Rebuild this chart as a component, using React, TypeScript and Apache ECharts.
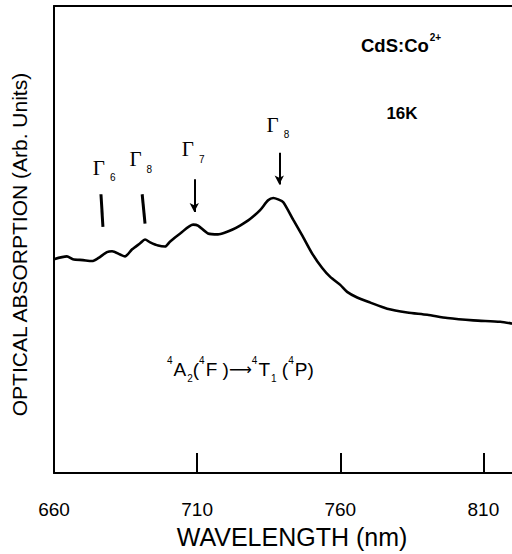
import React, { useEffect, useRef } from "react";
import * as echarts from "echarts";

const wavelength = [660, 664.5, 666.6, 670.1, 673.3, 675.4, 678.5, 680.3, 683.1, 684.8, 687.3, 690.1, 691.8, 693.6, 696.4, 698.8, 700.6, 704.1, 708.6, 710.3, 713.8, 717.3, 719.8, 722.2, 725.0, 728.5, 732.0, 734.8, 736.6, 738.3, 740.1, 743.6, 746.7, 750.2, 753.7, 756.5, 760.0, 762.4, 765.9, 770.5, 776.4, 783.4, 790.4, 797.4, 806.5, 815.9, 820];
const absorption = [45.8, 46.4, 45.8, 45.6, 45.4, 46.0, 47.3, 47.5, 46.8, 46.4, 47.9, 49.2, 50.0, 49.4, 48.7, 48.5, 49.6, 51.3, 53.2, 53.0, 51.3, 51.1, 51.5, 52.1, 53.0, 54.4, 56.3, 58.4, 58.9, 58.6, 58.0, 54.2, 50.9, 47.0, 43.9, 42.0, 40.3, 38.8, 37.6, 36.5, 35.2, 34.4, 33.9, 33.2, 32.7, 32.4, 32.0];

// annotation arrows
const arrowNames = ["Γ6", "Γ8", "Γ7", "Γ8"];
const arrowSubs = ["6", "8", "7", "8"];
const arrowStart = [[676.4, 59.7], [690.8, 59.7], [709.0, 62.9], [738.7, 68.6]];
const arrowEnd = [[677.1, 52.7], [691.8, 53.4], [709.0, 55.9], [738.7, 61.8]];
const arrowHead = [false, false, true, true];
const labelPos = [[677.5, 65.4], [690.3, 67.2], [708.6, 69.3], [738.2, 74.6]];

const xTicks = { min: 660, max: 820, interval: 50 };

export default function App() {
  const ref = useRef<HTMLDivElement>(null);
  useEffect(() => {
    if (!ref.current) return;
    const chart = echarts.init(ref.current, null, { renderer: "svg" });
    const data = wavelength.map((w, i) => [w, absorption[i]]);
    chart.setOption({
      animation: false,
      grid: { left: 54, right: 0, top: 6, bottom: 74 },
      xAxis: [
        {
          type: "value",
          min: xTicks.min,
          max: xTicks.max,
          interval: xTicks.interval,
          axisLine: { show: true, lineStyle: { color: "#000", width: 2 } },
          axisTick: { show: true, inside: true, length: 20, lineStyle: { color: "#000", width: 2 } },
          axisLabel: {
            show: true,
            showMaxLabel: false,
            margin: 27,
            color: "#000",
            fontFamily: "Liberation Sans, Arial, sans-serif",
            fontSize: 19,
          },
          splitLine: { show: false },
          name: "WAVELENGTH (nm)",
          nameLocation: "middle",
          nameGap: 46,
          nameTextStyle: {
            color: "#000",
            fontFamily: "Liberation Sans, Arial, sans-serif",
            fontSize: 25,
            padding: [0, 0, 0, 18],
          },
        },
        {
          type: "value",
          position: "top",
          min: xTicks.min,
          max: xTicks.max,
          axisLine: { show: true, lineStyle: { color: "#000", width: 2 } },
          axisTick: { show: false },
          axisLabel: { show: false },
          splitLine: { show: false },
        },
      ],
      yAxis: {
        type: "value",
        min: 0,
        max: 100,
        axisLine: { show: true, lineStyle: { color: "#000", width: 2 } },
        axisTick: { show: false },
        axisLabel: { show: false },
        splitLine: { show: false },
        name: "OPTICAL ABSORPTION (Arb. Units)",
        nameLocation: "middle",
        nameGap: 24,
        nameTextStyle: {
          color: "#000",
          fontFamily: "Liberation Sans, Arial, sans-serif",
          fontSize: 21,
          padding: [0, 10, 0, 0],
        },
      },
      series: [
        {
          type: "line",
          data,
          showSymbol: false,
          smooth: 0.25,
          lineStyle: { color: "#000", width: 2.6 },
          silent: true,
          markLine: {
            silent: true,
            symbol: ["none", "none"],
            label: { show: false },
            lineStyle: { color: "#000", type: "solid", width: 3 },
            data: arrowStart.map((s, i) => [
              { coord: s, symbol: "none", lineStyle: { width: arrowHead[i] ? 2 : 3 } },
              { coord: arrowEnd[i], symbol: arrowHead[i] ? "arrow" : "none", symbolSize: [7, 9] },
            ]),
          },
          markPoint: {
            silent: true,
            symbol: "circle",
            symbolSize: 1,
            itemStyle: { color: "transparent" },
            data: labelPos.map((p, i) => ({
              name: arrowNames[i],
              coord: p,
              label: {
                show: true,
                position: "inside",
                formatter: "{g|Γ}{s|" + arrowSubs[i] + "}",
                rich: {
                  g: {
                    fontFamily: "Liberation Serif, Times New Roman, serif",
                    fontSize: 21,
                    color: "#000",
                    lineHeight: 30,
                    verticalAlign: "middle",
                  },
                  s: {
                    fontFamily: "Liberation Sans, Arial, sans-serif",
                    fontSize: 10,
                    color: "#000",
                    lineHeight: 30,
                    verticalAlign: "bottom",
                    padding: [0, 0, 0, 5],
                  },
                },
              },
            })),
          },
        },
      ],
      graphic: [
        {
          type: "text",
          x: 361,
          y: 45,
          style: {
            text: "{m|CdS:Co}{sup|2+}",
            verticalAlign: "middle",
            rich: {
              m: { fontFamily: "Liberation Sans, Arial, sans-serif", fontWeight: "bold", fontSize: 18.5, fill: "#000", lineHeight: 26 },
              sup: {
                fontFamily: "Liberation Sans, Arial, sans-serif",
                fontWeight: "bold",
                fontSize: 10,
                fill: "#000",
                lineHeight: 26,
                verticalAlign: "top",
                padding: [0, 0, 0, 1],
              },
            },
          },
        },
        {
          type: "text",
          x: 402,
          y: 113,
          style: {
            text: "16K",
            align: "center",
            verticalAlign: "middle",
            fontFamily: "Liberation Sans, Arial, sans-serif",
            fontWeight: "bold",
            fontSize: 17,
            fill: "#000",
          },
        },
        {
          type: "text",
          x: 167,
          y: 369,
          style: {
            text: "{sp|4}{b|A}{sb|2}{b|(}{sp|4}{b|F )}{ar|⟶}{sp|4}{b|T}{sb|1}{b| (}{sp|4}{b|P)}",
            verticalAlign: "middle",
            rich: {
              b: { fontFamily: "Liberation Sans, Arial, sans-serif", fontSize: 19, fill: "#000", lineHeight: 28 },
              ar: { fontFamily: "DejaVu Sans, sans-serif", fontSize: 16, fill: "#000", lineHeight: 28 },
              sp: { fontFamily: "Liberation Sans, Arial, sans-serif", fontSize: 10, fill: "#000", lineHeight: 28, verticalAlign: "top", padding: [0, 1, 0, 0] },
              sb: { fontFamily: "Liberation Sans, Arial, sans-serif", fontSize: 10, fill: "#000", lineHeight: 28, verticalAlign: "bottom", padding: [0, 0, 0, 1] },
            },
          },
        },
      ],
    });
    return () => chart.dispose();
  }, []);
  return <div ref={ref} style={{ position: "absolute", left: 0, top: 0, width: 512, height: 554 }} />;
}
